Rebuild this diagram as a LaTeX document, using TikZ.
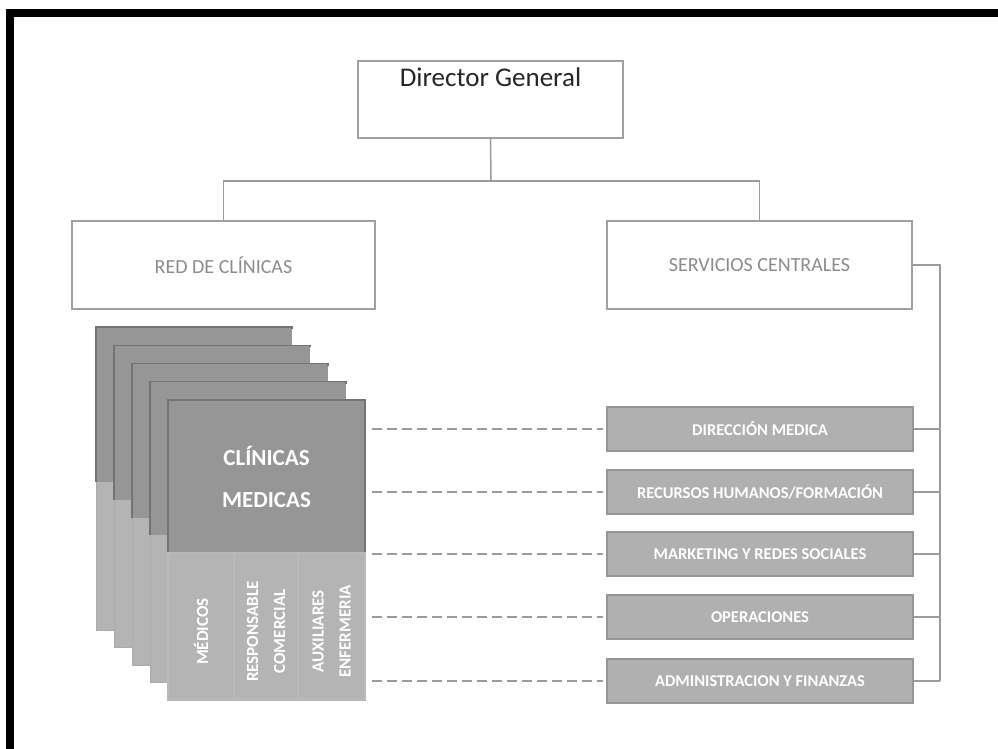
\documentclass[tikz,border=0pt]{standalone}
\usepackage{fontspec}
\setmainfont{Carlito}
\definecolor{linegray}{RGB}{155,155,155}
\definecolor{boxline}{RGB}{160,160,160}
\definecolor{labgray}{RGB}{140,140,140}
\definecolor{cardtop}{RGB}{150,150,150}
\definecolor{cardbot}{RGB}{180,180,180}
\definecolor{cardedge}{RGB}{115,115,115}
\definecolor{svcfill}{RGB}{176,176,176}
\definecolor{svcedge}{RGB}{150,150,150}
\begin{document}
\begin{tikzpicture}[x=1pt,y=-1pt,
  whitebox/.style={draw=boxline,line width=1.6pt,fill=white,inner sep=0pt},
  unitlabel/.style={text=labgray,font=\fontsize{20}{24}\selectfont},
  svcbox/.style={draw=svcedge,line width=1.2pt,fill=svcfill,minimum width=306pt,minimum height=44pt,inner sep=0pt,text=white,font=\bfseries\fontsize{16.5}{19}\selectfont},
  conn/.style={draw=linegray,line width=1.5pt},
  dashline/.style={draw=linegray,line width=1.5pt,dash pattern=on 10pt off 5pt},
  cardpart/.style={line width=1.2pt,inner sep=0pt},
  coltext/.style={rotate=90,text=white,align=center,font=\bfseries\fontsize{17}{27}\selectfont}
]
\useasboundingbox (0,0) rectangle (998,749);
% black frame
\draw[black,line width=8pt] (10,749) -- (10,13) -- (998,13);

% Director General
\node[whitebox,minimum width=265pt,minimum height=77pt,text height=22pt,text depth=47pt,inner ysep=4pt,inner xsep=0pt,
  font=\fontsize{27}{30}\selectfont,text=black!85] (dg) at (490.5,99.5) {Director General};

% second level
\node[whitebox,minimum width=303pt,minimum height=88pt,unitlabel] (red) at (223.5,265) {RED DE CLÍNICAS};
\node[whitebox,minimum width=305pt,minimum height=88pt,unitlabel] (sc) at (759.5,265) {SERVICIOS CENTRALES};

\coordinate (split) at (491,181);
\draw[conn] (dg.south) -- (split);
\draw[conn] (split) -| (red.north);
\draw[conn] (split) -| (sc.north);

% stacked clinic cards (back ones)
\foreach \i in {0,1,2,3} {
  \pgfmathsetmacro{\xl}{96+18*\i}
  \pgfmathsetmacro{\yt}{327+18.25*\i}
  \pgfmathsetmacro{\yd}{482+17.8*\i}
  \pgfmathsetmacro{\yb}{630+17.5*\i}
  \fill[cardbot] (\xl,\yd) rectangle (\xl+196,\yb);
  \fill[cardtop] (\xl,\yt) rectangle (\xl+196,\yd);
  \draw[cardedge,line width=1.2pt] (\xl,\yd) -- (\xl,\yt) -- (\xl+196,\yt) -- (\xl+196,\yt+2);
  \draw[cardedge!60,line width=1pt] (\xl,\yd) -- (\xl,\yb) -- (\xl+18,\yb);
}
% front card
\node[cardpart,fill=cardtop,draw=cardedge,minimum width=197pt,minimum height=153pt,align=center,text=white,
  font=\bfseries\fontsize{23}{42}\selectfont] (clin) at (266.5,476.5) {CLÍNICAS\\MEDICAS};
\node[cardpart,fill=cardbot,draw=cardedge!50,minimum width=66pt,minimum height=147pt] (med) at (201,626.5) {};
\node[cardpart,fill=cardbot,draw=cardedge!50,minimum width=64pt,minimum height=147pt] (resp) at (266,626.5) {};
\node[cardpart,fill=cardbot,draw=cardedge!50,minimum width=67pt,minimum height=147pt] (aux) at (331.5,626.5) {};
\node[coltext] at ([yshift=-5pt]med.center) {MÉDICOS};
\node[coltext] at ([yshift=-5pt]resp.center) {RESPONSABLE\\COMERCIAL};
\node[coltext] at ([yshift=-5pt]aux.center) {AUXILIARES\\ENFERMERIA};

% service boxes
\node[svcbox] (d1) at (760,429) {DIRECCIÓN MEDICA};
\node[svcbox] (d2) at (760,492) {RECURSOS HUMANOS/FORMACIÓN};
\node[svcbox] (d3) at (760,554) {MARKETING Y REDES SOCIALES};
\node[svcbox] (d4) at (760,617) {OPERACIONES};
\node[svcbox] (d5) at (760,681) {ADMINISTRACION Y FINANZAS};

% bus on the right
\coordinate (bustop) at (940,265);
\coordinate (busbot) at (940,681);
\draw[conn] (sc.east) -- (bustop) -- (busbot);
\foreach \n in {d1,d2,d3,d4,d5} {
  \draw[conn] (\n.east) -- (\n.east -| bustop);
}

% dashed links
\foreach \n in {d1,d2,d3,d4,d5} {
  \draw[dashline] ([xshift=6pt]clin.east |- \n.west) -- ([xshift=-3pt]\n.west);
}
\end{tikzpicture}
\end{document}
